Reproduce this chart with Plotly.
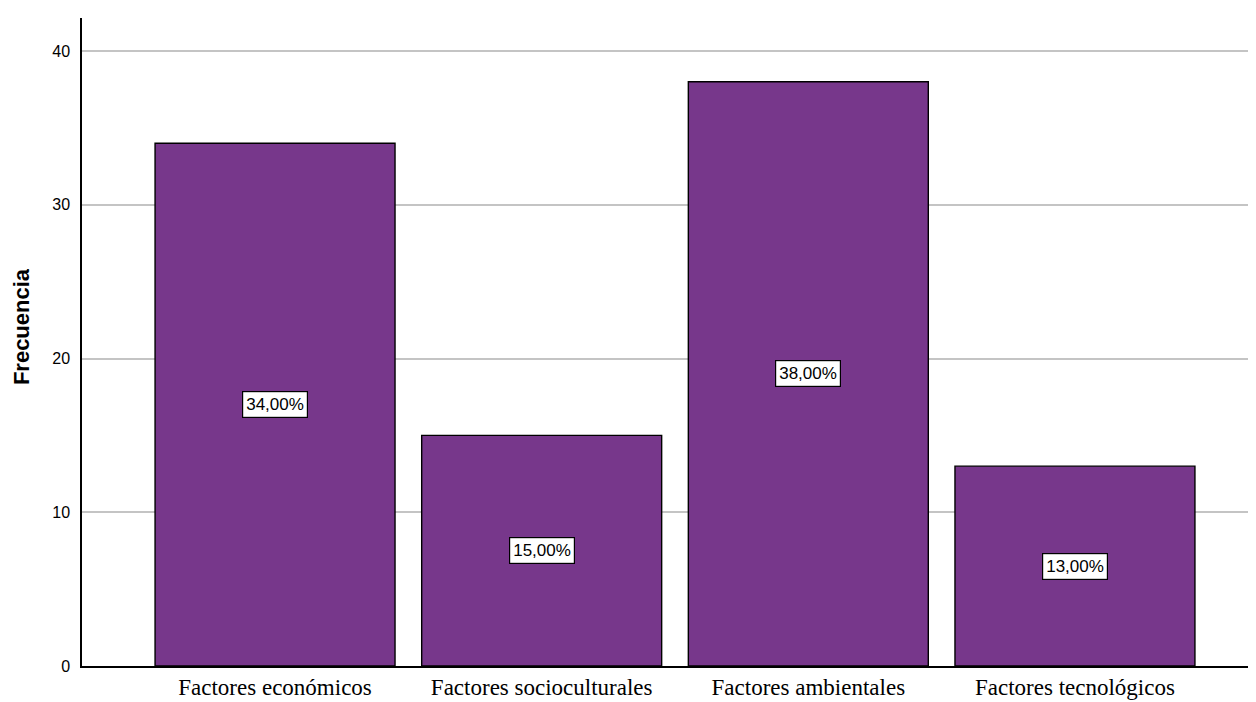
import plotly.graph_objects as go

categories = ["Factores económicos", "Factores socioculturales", "Factores ambientales", "Factores tecnológicos"]
frequencies = [34, 15, 38, 13]
percent_labels = ["34,00%", "15,00%", "38,00%", "13,00%"]
y_ticks = [0, 10, 20, 30, 40]

fig = go.Figure()
fig.add_trace(go.Bar(
    x=list(range(len(categories))),
    y=frequencies,
    width=0.9,
    marker=dict(color="#77378B", line=dict(color="#000000", width=1.4)),
    hoverinfo="skip",
))

for i, (v, lab) in enumerate(zip(frequencies, percent_labels)):
    fig.add_annotation(
        x=i, y=v / 2, text=lab, showarrow=False,
        font=dict(family="Liberation Sans, Arial", size=17, color="#000000"),
        bgcolor="#FFFFFF", bordercolor="#000000", borderwidth=1.2, borderpad=3,
    )

# y-axis title as a rotated annotation (positioned slightly above centre like the reference)
fig.add_annotation(
    xref="paper", yref="paper", x=0, y=0.523, xshift=-61,
    xanchor="center", yanchor="middle",
    text="<b>Frecuencia</b>", textangle=-90, showarrow=False,
    font=dict(family="Liberation Sans, Arial", size=22, color="#000000"),
)

# page body has an 8px margin, so the figure is sized/margined to compensate
fig.update_layout(
    width=1248, height=694,
    margin=dict(l=74, r=0, t=10, b=36),
    paper_bgcolor="#FFFFFF", plot_bgcolor="#FFFFFF",
    showlegend=False,
)
fig.update_xaxes(
    range=[-0.724, 3.679],
    tickmode="array", tickvals=list(range(len(categories))), ticktext=categories,
    tickfont=dict(family="Liberation Serif, Times New Roman, serif", size=23, color="#000000"),
    showgrid=False, zeroline=False,
    showline=True, linecolor="#000000", linewidth=1.5,
    ticks="", ticklen=0,
)
fig.update_yaxes(
    range=[0, 42.15],
    tickmode="array", tickvals=y_ticks, ticktext=[str(t) for t in y_ticks],
    tickfont=dict(family="Liberation Sans, Arial", size=16, color="#000000"),
    ticklabelstandoff=7,
    showgrid=True, gridcolor="#C4C4C4", gridwidth=1.5,
    zeroline=False,
    showline=True, linecolor="#000000", linewidth=1.5,
    ticks="", ticklen=0,
)

fig.write_html("out.html")
